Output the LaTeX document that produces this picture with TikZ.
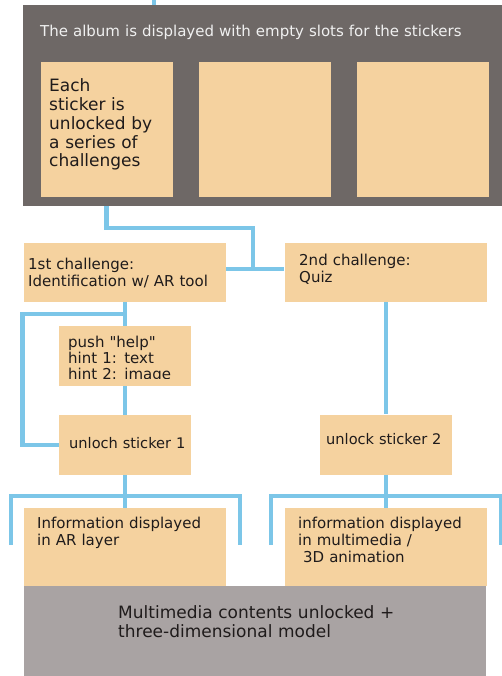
\documentclass[tikz,border=0pt]{standalone}
\usepackage{fontspec}
\setmainfont{DejaVu Sans}
\newfontfamily\plainfont{DejaVu Sans}

\definecolor{albumgray}{HTML}{6E6866}
\definecolor{slotsand}{HTML}{F5D29F}
\definecolor{linkblue}{HTML}{7CC6E8}
\definecolor{basegray}{HTML}{A9A3A3}
\definecolor{inkdark}{HTML}{1F1B1B}

\begin{document}
\begin{tikzpicture}[x=1pt,y=-1pt,
	panel/.style={rectangle, inner sep=0pt, fill=slotsand},
	wide/.style={panel, minimum width=202pt, minimum height=59pt},
	narrow/.style={panel, minimum width=132pt, minimum height=60pt},
	link/.style={draw=linkblue, line width=4.5pt},
	txt/.style={anchor=base west, inner sep=0pt, text width=460pt, align=left, text=inkdark, font=\fontsize{15}{17}\selectfont},
	bigtxt/.style={txt, font=\fontsize{17}{18.7}\selectfont}]

\useasboundingbox (0,0) rectangle (502,676);
\clip (0,0) rectangle (502,676);

% Draw the album with its slots
\node[rectangle, inner sep=0pt, fill=albumgray, minimum width=489pt, minimum height=201pt] (album) at (267.5,105.5) {};
\foreach \i/\x in {1/106.5,2/265,3/423} {
	\node[panel, minimum width=132pt, minimum height=135pt] (slot\i) at (\x,129.5) {};
}
\node[txt, text=white!94!black] (album-t) at (40,37) {The album is displayed with empty slots for the stickers};
\node[bigtxt] (slot1-t) at (49,92) {Each\\sticker is\\unlocked by\\a series of\\challenges};

% Draw the challenges
\node[wide] (chal1) at (125,272.5) {};
\node[wide] (chal2) at (385.5,272.5) {};
\node[txt] (chal1-t) at (28,269) {1st challenge:\\Identification w/ AR tool};
\node[txt] (chal2-t) at (299,265) {2nd challenge:\\Quiz};

\node[narrow] (hint) at (125,356) {};
\node[narrow] (unlock1) at (125,445) {};
\node[narrow] (unlock2) at (386,444.5) {};

\coordinate (hintcut) at (191,378.5);
\begin{scope}
\clip (hint.north west) rectangle (hintcut);
\node[txt, font=\plainfont\fontsize{15}{16}\selectfont] (hint-t) at (68,347) {push "help"\\hint 1: text\\hint 2: image};
\end{scope}
\node[txt, font=\fontsize{14.6}{17}\selectfont] (unlock1-t) at (69,448) {unloch sticker 1};
\node[txt, font=\fontsize{14.6}{17}\selectfont] (unlock2-t) at (326,444) {unlock sticker 2};

% Draw the results
\node[panel, minimum width=202pt, minimum height=78pt] (info1) at (125,547) {};
\node[panel, minimum width=202pt, minimum height=78pt] (info2) at (385.5,547) {};
\node[rectangle, inner sep=0pt, fill=basegray, minimum width=462pt, minimum height=90pt] (base) at (255,631) {};
\node[txt] (info1-t) at (37,528) {Information displayed\\in AR layer};
\node[txt] (info2-t) at (298,528) {information displayed\\in multimedia /\\\ 3D animation};
\node[bigtxt, font=\fontsize{17}{19}\selectfont] (base-t) at (118,618) {Multimedia contents unlocked +\\three-dimensional model};

% Connectors
\coordinate (entry) at (154,0);
\coordinate (bend) at (106.5,228);
\coordinate (split) at (253,269);
\coordinate (loop) at (22.5,314);
\draw[link] (entry) -- (entry |- album.north);
\draw[link] (slot1 |- album.south) -- (bend) -| (split);
\draw[link] (chal1.east |- split) -- (chal2.west |- split);
\draw[link] (chal1) -- (hint);
\draw[link] (hint) -- (unlock1);
\draw[link] (chal1.south |- loop) -- (loop) |- (unlock1.west);
\draw[link] (chal2.south -| unlock2) -- (unlock2.north);

\coordinate (bar1) at (125,496);
\coordinate (foot1l) at (11,545);
\coordinate (foot1r) at (240,545);
\coordinate (bar2) at (386,496);
\coordinate (foot2l) at (271,545);
\coordinate (foot2r) at (501,545);
\draw[link] (unlock1) -- (info1);
\draw[link] (unlock2.south) -- (unlock2.south |- info2.north);
\draw[link] (foot1l) |- (bar1) -| (foot1r);
\draw[link] (foot2l) |- (bar2) -| (foot2r);

\end{tikzpicture}
\end{document}
